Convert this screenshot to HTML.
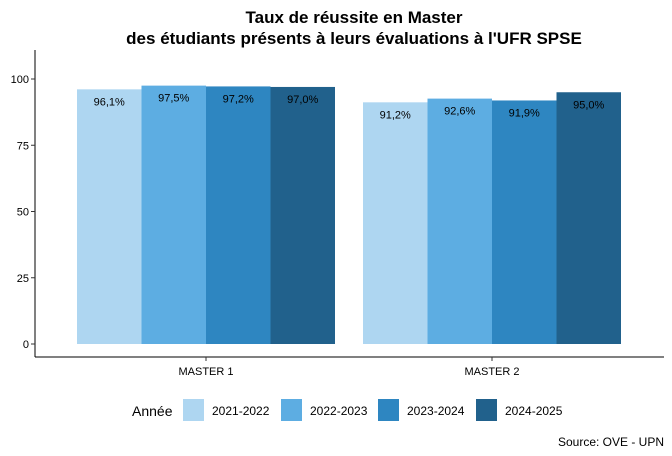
<!DOCTYPE html>
<html><head><meta charset="utf-8"><style>
body{margin:0;background:#fff;}
svg{display:block;font-family:"Liberation Sans",Arial,sans-serif;}
</style></head><body>
<svg id="chart" width="672" height="456">
<text x="354" y="23" text-anchor="middle" font-size="17" font-weight="bold">Taux de réussite en Master</text>
<text x="354" y="44" text-anchor="middle" font-size="17" font-weight="bold">des étudiants présents à leurs évaluations à l'UFR SPSE</text>
<g id="plot"></g>
<g id="legend">
<text x="132" y="416" font-size="14">Année</text>
</g>
<text x="664" y="446" text-anchor="end" font-size="12">Source: OVE - UPN</text>
</svg>
<script>
const categories=["MASTER 1","MASTER 2"];
const years=["2021-2022","2022-2023","2023-2024","2024-2025"];
const s2122=[96.1,91.2];
const s2223=[97.5,92.6];
const s2324=[97.2,91.9];
const s2425=[97.0,95.0];
const labels1=["96,1%","91,2%"],labels2=["97,5%","92,6%"],labels3=["97,2%","91,9%"],labels4=["97,0%","95,0%"];
const yTicks=[0,25,50,75,100];

const series=[s2122,s2223,s2324,s2425];
const labels=[labels1,labels2,labels3,labels4];
const colors=["#AED6F1","#5DADE2","#2E86C1","#21618C"];
const ns="http://www.w3.org/2000/svg";
const plot=document.getElementById('plot');
const X0=35,X1=664,Ytop=50,Ybot=357;
const y=v=>344-v*2.65;
const band=286;
const groupW=258;
const xc=i=>206+band*i;
function mk(t,a,p){const e=document.createElementNS(ns,t);for(const k in a)e.setAttribute(k,a[k]);(p||plot).appendChild(e);return e;}
let ax=mk('line',{x1:X0,y1:Ytop,x2:X0,y2:Ybot,stroke:'#000','stroke-width':1});


let bx=mk('line',{x1:X0,y1:Ybot,x2:X1,y2:Ybot,stroke:'#000','stroke-width':1});


yTicks.forEach(t=>{
 let tk=mk('line',{x1:X0-4,y1:y(t),x2:X0,y2:y(t),stroke:'#333'});
 
 
 let tl=mk('text',{x:X0-6,y:y(t)+4,'text-anchor':'end','font-size':11,fill:'#000'});
 tl.textContent=t;
 
 
});
const bw=groupW/series.length;
categories.forEach((c,i)=>{
 let tk=mk('line',{x1:xc(i),y1:Ybot,x2:xc(i),y2:Ybot+4,stroke:'#333'});
 
 
 let tl=mk('text',{x:xc(i),y:Ybot+18,'text-anchor':'middle','font-size':11});
 tl.textContent=c;
 
 
 series.forEach((s,j)=>{
  const x=xc(i)-groupW/2+j*bw;
  let r=mk('rect',{x:x,y:y(s[i]),width:bw,height:y(0)-y(s[i]),fill:colors[j]});
  
  
  let l=mk('text',{x:x+bw/2,y:y(s[i])+16,'text-anchor':'middle','font-size':11});
  l.textContent=labels[j][i];
  
  
 });
});
const leg=document.getElementById('legend');
const lx=[183,281,378,476];
years.forEach((yr,j)=>{
 let r=mk('rect',{x:lx[j],y:399,width:21,height:22,fill:colors[j]},leg);
 
 
 let t=mk('text',{x:lx[j]+29,y:415,'font-size':12},leg);
 t.textContent=yr;
 
 
});
</script>
</body></html>
